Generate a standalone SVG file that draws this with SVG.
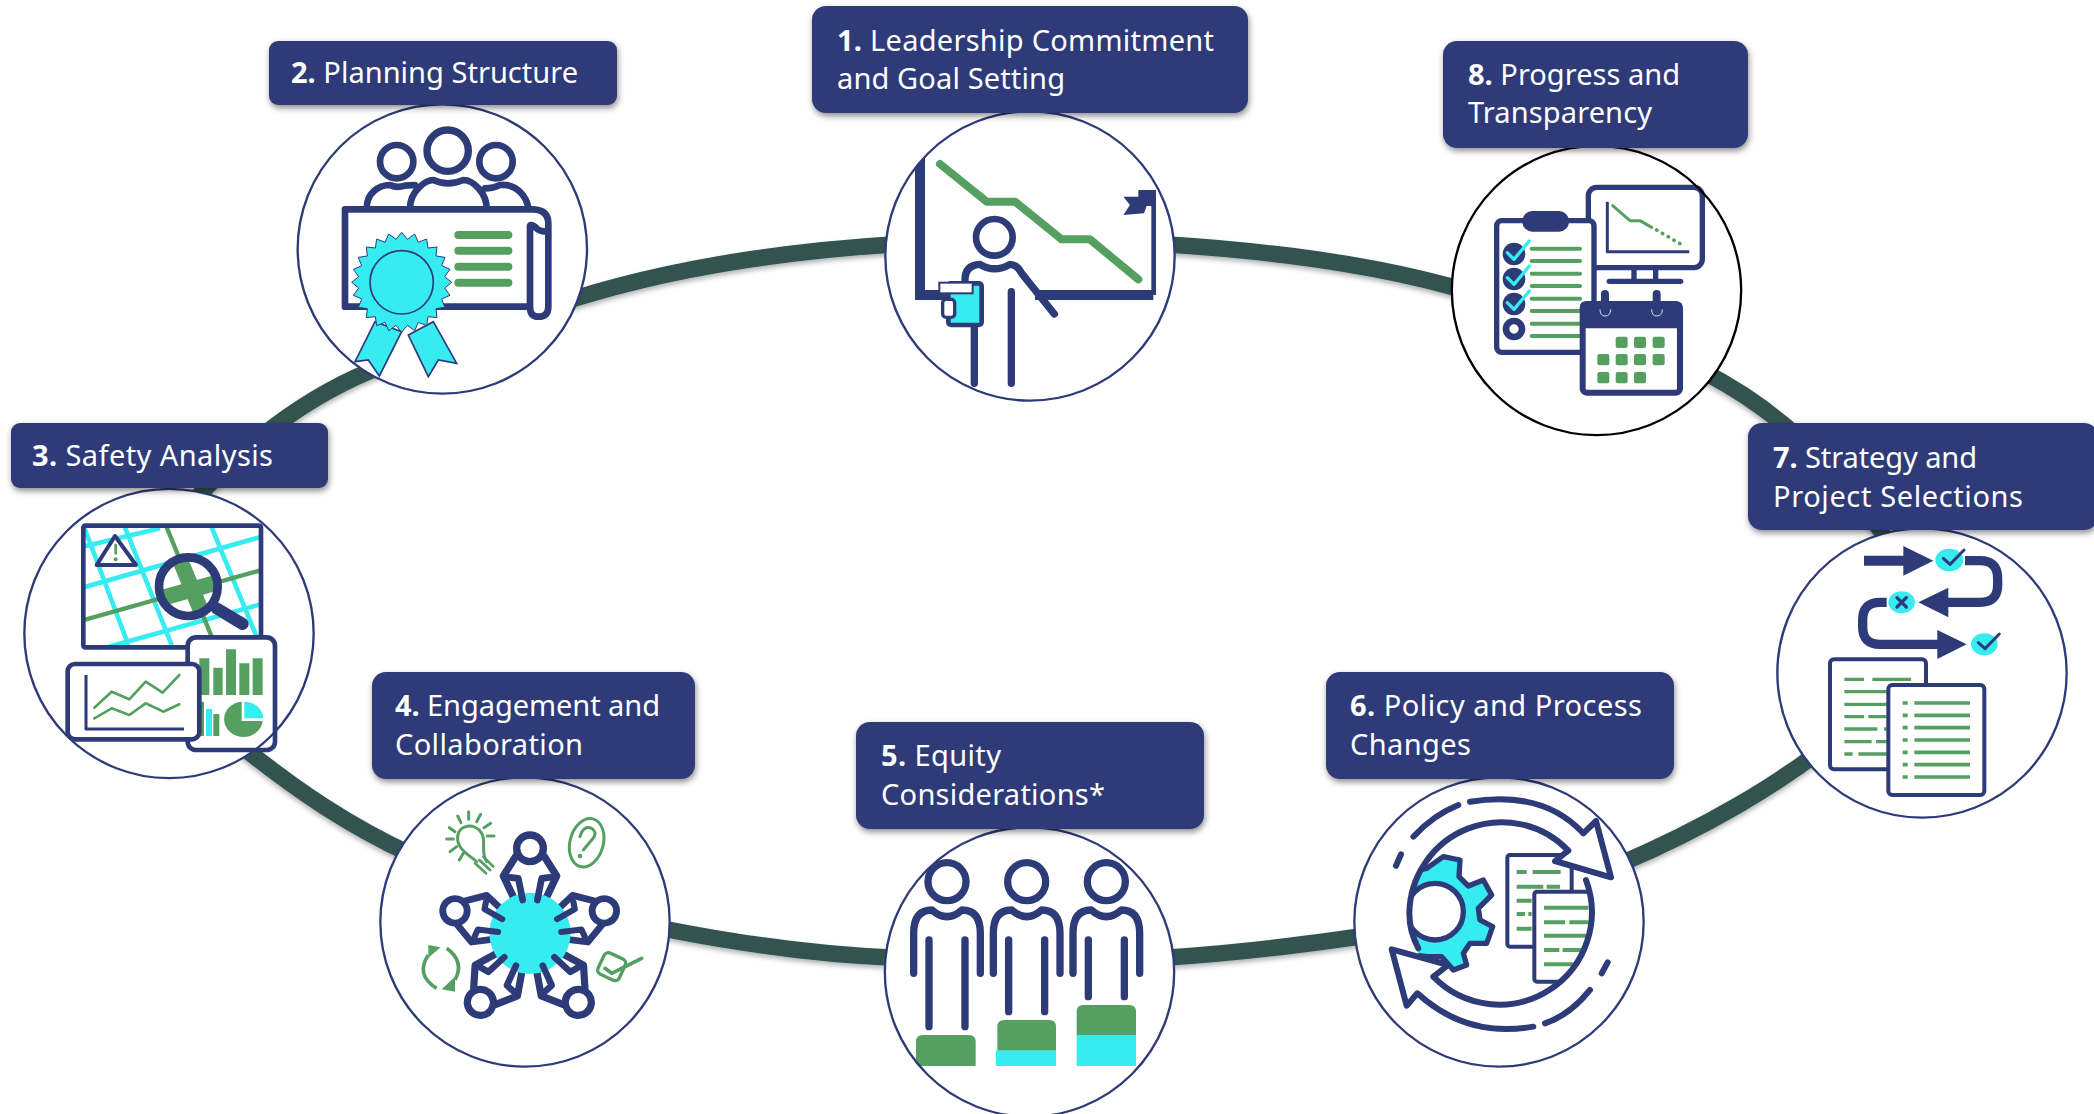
<svg xmlns="http://www.w3.org/2000/svg" xmlns:xlink="http://www.w3.org/1999/xlink" width="2094" height="1114" viewBox="0 0 2094 1114">
<style>
text{font-family:"Noto Sans","Liberation Sans",sans-serif;font-size:29px;fill:#fff}
tspan.n{font-weight:700}
.lab{fill:#2d3b78;filter:url(#sh)}
.ring{fill:none;stroke:#31534f;stroke-width:16.5}
.c{fill:#fff}
.o{fill:none;stroke:#2d3b78;stroke-width:7}
.k{fill:none;stroke:#000;stroke-width:7}
.b{fill:none;stroke:#2d3b78;stroke-linecap:round;stroke-linejoin:round}
.g{fill:none;stroke:#55a060;stroke-linecap:round;stroke-linejoin:round}
.t{fill:none;stroke:#37ecf0}
.fb{fill:#2d3b78}.fg{fill:#55a060}.ft{fill:#37ecf0}.fw{fill:#fff}
</style>
<defs>
<filter id="sh" x="-10%" y="-20%" width="120%" height="150%"><feDropShadow dx="1" dy="3" stdDeviation="3" flood-color="#000" flood-opacity=".45"/></filter>
<filter id="sr" x="-5%" y="-20%" width="110%" height="150%"><feDropShadow dx="0" dy="3" stdDeviation="2.5" flood-color="#000" flood-opacity=".3"/></filter>
<clipPath id="c1"><circle cx="690" cy="768" r="434"/></clipPath>
<clipPath id="c3"><rect x="250" y="347" width="533" height="365"/></clipPath>
<clipPath id="c3l"><circle cx="565" cy="530" r="88"/></clipPath>
<clipPath id="c5"><circle cx="538.5" cy="786" r="434"/></clipPath>
<clipPath id="c6"><circle cx="575" cy="760" r="277"/></clipPath>
<g id="p">
<path class="fw" d="M-38,-225L-82,-172L-50,-100L50,-100L82,-172L38,-225Z"/>
<path class="b" stroke-width="22" d="M-42,-232L-80,-172L-48,-105M42,-232L80,-172L48,-105"/>
<circle cx="0" cy="-255" r="40" class="b" stroke-width="22" style="fill:#fff"/>
</g>
<g id="a">
<path class="b" stroke-width="20" d="M-60,-168L-35,-165L-22,-100M60,-168L35,-165L22,-100"/>
</g>
</defs>
<g id="connectors" filter="url(#sr)">
<path class="ring" d="M570,300C680,265 800,250 900,244"/>
<path class="ring" d="M1160,244C1260,250 1370,262 1470,292"/>
<path class="ring" d="M1700,370C1770,405 1840,465 1890,545"/>
<path class="ring" d="M1840,735C1780,785 1700,830 1620,864"/>
<path class="ring" d="M1370,935C1310,944 1240,953 1160,958"/>
<path class="ring" d="M900,958C820,955 740,944 660,928"/>
<path class="ring" d="M410,854C350,826 300,793 240,745"/>
<path class="ring" d="M190,505C240,450 300,397 385,365"/>
</g>

<g id="node-2">
<g transform="translate(260,20) scale(.33333)">
<circle class="c" cx="547" cy="687" r="434"/>
<circle class="b" cx="410" cy="425" r="50" stroke-width="20"/><circle class="b" cx="563" cy="392" r="62" stroke-width="22"/><circle class="b" cx="708" cy="425" r="50" stroke-width="20"/>
<path class="b" stroke-width="20" d="M320,565C320,520 355,495 390,495Q410,505 435,497L465,495M450,565C450,510 500,480 520,480Q563,500 610,480C640,480 680,520 680,565M675,505Q700,505 720,495C770,490 800,530 805,565"/>
<path class="b" stroke-width="20" d="M255,568V860H810M255,568H820Q865,570 865,610V860Q865,890 835,890Q810,890 810,860V620Q810,610 825,620Q835,635 860,635"/>
<path class="g" stroke-width="24" d="M595,645H745M595,692H745M595,740H745M595,788H745"/>
<path class="ft" stroke="#2d3b78" stroke-width="5" d="M345,905L425,935L358,1068L325,1020L285,1025ZM445,945L520,905L590,1030L535,1020L505,1070Z"/>
<polygon class="ft" stroke="#2d3b78" stroke-width=".3" transform="translate(425,787) scale(10)" points="15,0 12.9,1.7 14.5,3.9 12,5 13,7.5 10.3,7.9 10.6,10.6 7.9,10.3 7.5,13 5,12 3.9,14.5 1.7,12.9 0,15 -1.7,12.9 -3.9,14.5 -5,12 -7.5,13 -7.9,10.3 -10.6,10.6 -10.3,7.9 -13,7.5 -12,5 -14.5,3.9 -12.9,1.7 -15,0 -12.9,-1.7 -14.5,-3.9 -12,-5 -13,-7.5 -10.3,-7.9 -10.6,-10.6 -7.9,-10.3 -7.5,-13 -5,-12 -3.9,-14.5 -1.7,-12.9 0,-15 1.7,-12.9 3.9,-14.5 5,-12 7.5,-13 7.9,-10.3 10.6,-10.6 10.3,-7.9 13,-7.5 12,-5 14.5,-3.9 12.9,-1.7"/>
<circle class="ft" stroke="#2d3b78" stroke-width="5" cx="425" cy="787" r="95"/>
<circle class="o" cx="547" cy="687" r="434"/>
</g>
<rect class="lab" x="269" y="41" width="348" height="64" rx="9"/>
<text x="291" y="83" textLength="287"><tspan class="n">2.</tspan> Planning Structure</text>
</g>

<g id="node-1">
<g transform="translate(800,0) scale(.33333)">
<circle class="c" cx="690" cy="768" r="434"/>
<g clip-path="url(#c1)">
<path class="b" stroke-width="30" style="stroke-linecap:butt;stroke-linejoin:miter" d="M360,450V885H1060"/>
<path class="b" stroke-width="14" style="stroke-linecap:butt" d="M1061,885V570"/>
<polygon class="fb" points="1015,570 1068,570 1068,618 1040,618 1032,640 970,645 990,615 970,590 1015,590"/>
<path class="g" stroke-width="24" d="M420,492L560,605H645L785,718H870L1015,838"/>
<rect class="fw" x="530" y="860" width="175" height="50"/>
<circle class="b" cx="583" cy="712" r="55" stroke-width="20"/>
<path class="b" stroke-width="22" d="M495,840Q495,795 540,793Q583,820 630,793Q650,793 665,820L763,942"/>
<path class="b" stroke-width="22" d="M523,970V1150M634,875V1150"/>
<rect class="ft" stroke="#2d3b78" stroke-width="14" x="445" y="850" width="100" height="125" rx="8"/>
<rect class="fw" stroke="#2d3b78" stroke-width="6" x="418" y="848" width="100" height="32"/>
<rect class="fw" stroke="#2d3b78" stroke-width="10" x="428" y="898" width="36" height="54" rx="10"/>
</g>
<circle class="o" cx="690" cy="768" r="434"/>
</g>
<rect class="lab" x="812" y="6" width="436" height="107" rx="14"/>
<text x="837" y="51" textLength="377"><tspan class="n">1.</tspan> Leadership Commitment</text>
<text x="837" y="89" textLength="228">and Goal Setting</text>
</g>

<g id="node-8">
<g transform="translate(1430,30) scale(.33333)">
<circle class="c" cx="499.5" cy="781.5" r="434"/>
<rect class="fw" stroke="#2d3b78" stroke-width="16" x="475" y="472" width="342" height="241" rx="25"/>
<path class="b" stroke-width="16" style="stroke-linecap:butt" d="M612,720V750M677,720V750"/>
<path class="b" stroke-width="16" d="M538,754H752"/>
<path class="b" stroke-width="9" style="stroke-linecap:butt" d="M532,515V665H778"/>
<path class="g" stroke-width="9" d="M548,527L600,572H630L665,592"/>
<path class="g" stroke-width="11" stroke-dasharray="1 19" d="M680,600L765,650"/>
<rect class="fw" stroke="#2d3b78" stroke-width="16" x="200" y="572" width="292" height="395" rx="15"/>
<rect class="fb" x="277" y="543" width="140" height="62" rx="30"/>
<path class="g" stroke-width="12" d="M305,656H450M305,693H450M305,731H450M305,768H450M305,806H450M305,843H450M305,881H450M305,918H450"/>
<circle class="fb" cx="252" cy="672" r="34"/><circle class="fb" cx="252" cy="747" r="34"/><circle class="fb" cx="252" cy="822" r="34"/>
<path d="M232,668L252,688L298,633M232,743L252,763L298,708M232,818L252,838L298,783" fill="none" stroke="#37ecf0" stroke-width="10" stroke-linecap="round" stroke-linejoin="round"/>
<circle class="fw" stroke="#2d3b78" stroke-width="20" cx="252" cy="897" r="24"/>
<rect class="fw" stroke="#2d3b78" stroke-width="18" x="458" y="822" width="292" height="266" rx="12"/>
<path class="fb" d="M450,895V830Q450,815 465,815H742Q757,815 757,830V895Z"/>
<path class="b" stroke-width="24" d="M525,792V825M680,792V825"/>
<path fill="none" stroke="#d8dcec" stroke-width="3" d="M510,838Q510,858 525,858Q542,858 542,838M665,838Q665,858 680,858Q697,858 697,838"/>
<g class="fg">
<rect x="557" y="920" width="36" height="34" rx="6"/><rect x="612" y="920" width="36" height="34" rx="6"/><rect x="668" y="920" width="36" height="34" rx="6"/>
<rect x="502" y="972" width="36" height="34" rx="6"/><rect x="557" y="972" width="36" height="34" rx="6"/><rect x="612" y="972" width="36" height="34" rx="6"/><rect x="668" y="972" width="36" height="34" rx="6"/>
<rect x="502" y="1026" width="36" height="34" rx="6"/><rect x="557" y="1026" width="36" height="34" rx="6"/><rect x="612" y="1026" width="36" height="34" rx="6"/>
</g>
<circle class="k" cx="499.5" cy="781.5" r="434"/>
</g>
<rect class="lab" x="1443" y="41" width="305" height="107" rx="14"/>
<text x="1468" y="85" textLength="212"><tspan class="n">8.</tspan> Progress and</text>
<text x="1468" y="123" textLength="184">Transparency</text>
</g>

<g id="node-3">
<g transform="translate(0,410) scale(.33333)">
<circle class="c" cx="507" cy="670.5" r="434"/>
<rect class="fw" x="250" y="347" width="533" height="365"/>
<g clip-path="url(#c3)">
<path class="t" stroke-width="14" d="M240,412L480,355M240,535L785,380M300,718L785,582M250,345L385,705M370,340L515,705M630,340L770,680"/>
<path class="g" stroke-width="13" style="stroke-linecap:butt" d="M240,633L785,480M495,340L635,680"/>
</g>
<rect x="250" y="347" width="533" height="365" rx="6" class="b" stroke-width="14"/>
<path class="fw" stroke="#2d3b78" stroke-width="12" stroke-linejoin="round" d="M345,378L408,465H290Z"/>
<path class="g" stroke-width="8" d="M347,405V430"/><circle class="fg" cx="347" cy="448" r="6"/>
<path class="b" stroke-width="36" d="M650,595L728,642"/>
<circle class="fw" cx="565" cy="530" r="88"/>
<g clip-path="url(#c3l)"><path class="g" stroke-width="48" style="stroke-linecap:butt" d="M240,633L785,480M495,340L635,680"/></g>
<circle class="b" cx="565" cy="530" r="88" stroke-width="26"/>
<rect class="fw" stroke="#2d3b78" stroke-width="14" x="563" y="682" width="262" height="338" rx="25"/>
<path class="fg" d="M598,745H628V855H598ZM640,773H668V855H640ZM678,718H708V855H678ZM718,760H748V855H718ZM758,745H788V855H758ZM600,875H612V978H600ZM640,912H658V978H640Z"/>
<rect class="ft" x="618" y="897" width="18" height="81"/>
<path class="fg" d="M725,875A58,53 0 1 0 788,933H725Z"/>
<path class="ft" d="M733,875A57,52 0 0 1 790,925H733Z"/>
<rect class="fw" stroke="#2d3b78" stroke-width="14" x="203" y="762" width="395" height="226" rx="22"/>
<path class="b" stroke-width="9" style="stroke-linecap:butt" d="M258,795V957H552"/>
<path class="g" stroke-width="8" d="M283,893L335,845L388,868L437,815L488,848L538,795M283,925L335,895L388,915L437,880L490,905L538,883"/>
<circle class="o" cx="507" cy="670.5" r="434"/>
</g>
<rect class="lab" x="11" y="423" width="317" height="65" rx="9"/>
<text x="32" y="466" textLength="241"><tspan class="n">3.</tspan> Safety Analysis</text>
</g>

<g id="node-4">
<g transform="translate(360,660) scale(.33333)">
<circle class="c" cx="495" cy="786" r="434"/>
<use xlink:href="#p" href="#p" transform="translate(510,820)"/>
<use xlink:href="#p" href="#p" transform="translate(510,825) rotate(72) scale(.92)"/>
<use xlink:href="#p" href="#p" transform="translate(508,825) rotate(144) scale(.98)"/>
<use xlink:href="#p" href="#p" transform="translate(508,825) rotate(216) scale(.98)"/>
<use xlink:href="#p" href="#p" transform="translate(508,825) rotate(288) scale(.92)"/>
<circle class="ft" cx="510" cy="820" r="122"/>
<use xlink:href="#a" href="#a" transform="translate(510,820)"/>
<use xlink:href="#a" href="#a" transform="translate(510,825) rotate(72) scale(.92)"/>
<use xlink:href="#a" href="#a" transform="translate(508,825) rotate(144) scale(.98)"/>
<use xlink:href="#a" href="#a" transform="translate(508,825) rotate(216) scale(.98)"/>
<use xlink:href="#a" href="#a" transform="translate(508,825) rotate(288) scale(.92)"/>
<g class="g" stroke-width="9">
<path d="M350,605C320,580 290,565 293,530C295,495 345,485 365,520C380,545 360,575 380,605"/>
<path stroke-width="8" d="M345,610L378,640M358,600L390,630M370,590L400,620"/>
<path d="M260,537H280M268,503L285,515M293,468L303,488M326,455V478M362,463L350,485M392,490L372,503M402,528H382M290,560L270,575M310,580L298,600"/>
<ellipse cx="680" cy="548" rx="50" ry="74" transform="rotate(15 680 548)"/>
<path d="M660,530Q670,495 695,505Q715,520 695,540L670,570"/>
</g>
<circle class="fg" cx="660" cy="588" r="7"/>
<path class="g" stroke-width="11" style="stroke-linecap:butt" d="M260,865Q315,905 285,960M230,985Q165,945 205,885"/>
<path class="fg" d="M205,855L242,862L205,893ZM285,995L245,988L285,950Z"/>
<rect class="fw" stroke="#55a060" stroke-width="10" x="-35" y="-35" width="70" height="70" rx="14" transform="translate(755,920) rotate(25)"/>
<path class="g" stroke-width="11" d="M735,925L755,940L845,895"/>
<circle class="o" cx="495" cy="786" r="434"/>
</g>
<rect class="lab" x="372" y="672" width="323" height="107" rx="14"/>
<text x="395" y="716" textLength="265"><tspan class="n">4.</tspan> Engagement and</text>
<text x="395" y="755" textLength="188">Collaboration</text>
</g>

<g id="node-5">
<g transform="translate(850,710) scale(.33333)">
<circle class="c" cx="538.5" cy="786" r="434"/>
<g clip-path="url(#c5)">
<path class="b" stroke-width="22" d="M191,790V670Q191,600 246,600Q291,640 336,600Q391,600 391,670V790M237,690V950M345,690V950"/>
<circle class="b" cx="291" cy="515" r="57" stroke-width="22"/>
<path class="b" stroke-width="22" d="M430,790V670Q430,600 485,600Q530,640 575,600Q630,600 630,670V790M476,690V905M584,690V905"/>
<circle class="b" cx="530" cy="515" r="57" stroke-width="22"/>
<path class="b" stroke-width="22" d="M669,790V670Q669,600 724,600Q769,640 814,600Q869,600 869,670V790M715,690V860M823,690V860"/>
<circle class="b" cx="769" cy="515" r="57" stroke-width="22"/>
<path class="fg" d="M198,1068V995Q198,975 218,975H357Q377,975 377,995V1068Z"/>
<path class="fg" d="M442,1022V950Q442,930 462,930H598Q618,930 618,950V1022Z"/>
<rect class="ft" x="438" y="1022" width="180" height="46"/>
<path class="fg" d="M680,975V905Q680,885 700,885H838Q858,885 858,905V975Z"/>
<rect class="ft" x="680" y="975" width="178" height="93"/>
</g>
<circle class="o" cx="538.5" cy="786" r="434"/>
</g>
<rect class="lab" x="856" y="722" width="348" height="107" rx="14"/>
<text x="881" y="766" textLength="120"><tspan class="n">5.</tspan> Equity</text>
<text x="881" y="805" textLength="224">Considerations*</text>
</g>

<g id="node-6">
<g transform="translate(1310,660) scale(.33333)">
<circle class="c" cx="567" cy="786" r="434"/>
<g clip-path="url(#c6)">
<path class="ft" stroke="#2d3b78" stroke-width="16" stroke-linejoin="round" d="M280,640L350,625L400,590L450,600L447,650L475,678L520,660L545,705L505,745L510,780L548,800L530,850L480,850L460,880L470,915L430,930L395,890L350,890L280,880Z"/>
<circle class="fw" stroke="#2d3b78" stroke-width="16" cx="375" cy="755" r="85"/>
<rect class="fw" stroke="#2d3b78" stroke-width="12" x="592" y="585" width="193" height="275" rx="8"/>
<path class="g" stroke-width="12" style="stroke-linecap:butt" d="M620,636H650M668,636H752M620,680H700M710,680H750M620,722H665M620,762H645M655,762H665M620,806H665"/>
<rect class="fw" stroke="#2d3b78" stroke-width="12" x="673" y="695" width="220" height="270" rx="8"/>
<path class="g" stroke-width="12" style="stroke-linecap:butt" d="M702,743H835M702,787H765M778,787H835M702,827H830M702,870H748M758,870H815M702,913H790"/>
</g>
<path class="b" stroke-width="18" d="M775,572A277,277 0 0 0 298,760Q298,815 325,865M828,660A277,277 0 0 1 370,950M258,617L273,583M310,530Q370,465 445,435M480,425Q700,390 820,520M705,1090Q780,1065 840,990M875,940L893,907M322,1000Q470,1135 670,1100"/>
<path class="b fw" style="fill:#fff" stroke-width="18" d="M820,520L858,483L903,652L735,603L775,572"/>
<path class="b" style="fill:#fff" stroke-width="18" d="M370,950L415,915L245,868L290,1037L322,1000"/>
<circle class="o" cx="567" cy="786" r="434"/>
</g>
<rect class="lab" x="1326" y="672" width="348" height="107" rx="14"/>
<text x="1350" y="716" textLength="292"><tspan class="n">6.</tspan> Policy and Process</text>
<text x="1350" y="755" textLength="121">Changes</text>
</g>

<g id="node-7">
<g transform="translate(1740,410) scale(.33333)">
<circle class="c" cx="546" cy="789" r="434"/>
<path class="fb" d="M372,437H490V408L580,452L490,497V467H372Z"/>
<path class="b" stroke-width="28" style="stroke-linecap:butt" d="M675,452H720Q773,452 773,505V525Q773,577 720,577H620"/>
<polygon class="fb" points="625,533 535,577 625,622"/>
<path class="b" stroke-width="28" style="stroke-linecap:butt" d="M440,577H420Q368,577 368,630V650Q368,703 420,703H600"/>
<polygon class="fb" points="592,660 680,703 592,747"/>
<ellipse class="ft" cx="628" cy="450" rx="42" ry="34"/><ellipse class="ft" cx="485" cy="577" rx="40" ry="33"/><ellipse class="ft" cx="733" cy="703" rx="40" ry="33"/>
<path class="b" stroke-width="9" d="M610,445L630,463L672,420M715,698L735,716L778,672"/>
<path class="b" stroke-width="10" d="M471,563L499,591M499,563L471,591"/>
<rect class="fw" stroke="#2d3b78" stroke-width="12" x="270" y="748" width="288" height="330" rx="12"/>
<path class="g" stroke-width="10" style="stroke-linecap:butt" d="M313,808H372M397,808H513M313,845H440M313,883H440M313,920H372M385,920H440M313,957H412M432,957H440M313,995H395M408,995H440M313,1032H338M355,1032H440"/>
<rect class="fw" stroke="#2d3b78" stroke-width="12" x="445" y="825" width="288" height="330" rx="12"/>
<path class="g" stroke-width="11" style="stroke-linecap:butt" d="M488,879H503M523,879H690M488,916H503M523,916H690M488,953H503M523,953H690M488,990H503M523,990H690M488,1027H503M523,1027H690M488,1064H503M523,1064H690M488,1101H503M523,1101H690"/>
<circle class="o" cx="546" cy="789" r="434"/>
</g>
<rect class="lab" x="1748" y="423" width="350" height="107" rx="14"/>
<text x="1773" y="468" textLength="204"><tspan class="n">7.</tspan> Strategy and</text>
<text x="1773" y="507" textLength="250">Project Selections</text>
</g>
</svg>
